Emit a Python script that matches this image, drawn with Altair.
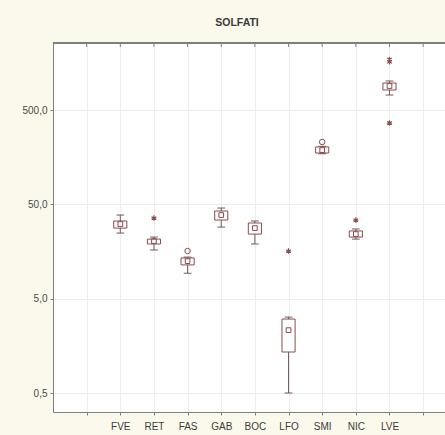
import altair as alt
import pandas as pd

categories = ["FVE", "RET", "FAS", "GAB", "BOC", "LFO", "SMI", "NIC", "LVE"]
whisker_low = [24.8, 16.4, 9.3, 28.7, 19.0, 0.50, 172, 21.4, 721]
q1 = [28.0, 19.0, 11.4, 34.1, 24.2, 1.36, 175, 22.5, 815]
median = [30.9, 20.4, 12.5, 38.5, 28.0, 2.32, 188, 24.2, 898]
q3 = [33.3, 21.4, 13.5, 42.5, 31.7, 3.04, 203, 26.1, 966]
whisker_high = [38.5, 22.5, 13.8, 45.7, 33.3, 3.19, 206, 27.4, 1015]
outlier_cat = ["FAS", "SMI"]
outlier_val = [16.0, 229]
extreme_cat = ["RET", "LFO", "NIC", "LVE", "LVE", "LVE"]
extreme_val = [35.8, 16.0, 34.1, 1720, 1620, 364]
y_ticks = [0.5, 5, 50, 500]

# slot layout: one empty slot on each side of the categories
slot_labels = [""] + categories + [""]
slots = list(range(1, len(slot_labels) + 1))

def idx(c):
    return categories.index(c) + 2

box_df = pd.DataFrame({
    "cat": categories,
    "idx": [idx(c) for c in categories],
    "wlo": whisker_low, "q1": q1, "med": median, "q3": q3, "whi": whisker_high,
})
out_df = pd.DataFrame({"idx": [idx(c) for c in outlier_cat], "v": outlier_val})
ext_df = pd.DataFrame({"idx": [idx(c) for c in extreme_cat], "v": extreme_val})
slot_df = pd.DataFrame({"idx": slots})

W, H = 392, 369
BOX_HALF = 0.195
CAP_HALF = 0.115
BOX_COL = "#8a4c4c"
WHISK_COL = "#6f5b5b"
GRID = "#ededed"

label_js = "[" + ",".join("'" + s + "'" for s in [""] + slot_labels) + "]"

x_scale = alt.Scale(domain=[0, 11.65], nice=False, zero=False)
y_scale = alt.Scale(type="log", domain=[0.3145, 2566], nice=False)

x_axis = alt.Axis(values=slots, labelExpr=label_js + "[datum.value]", title=None,
                  grid=True, gridColor=GRID, tickSize=3, labelPadding=6,
                  labelFontSize=10, labelColor="#3c3c3c", domainColor="#7f7f7f",
                  tickColor="#7f7f7f", labelFont="Liberation Sans")
y_axis = alt.Axis(values=y_ticks, labelExpr="replace(format(datum.value, '.1f'), '.', ',')",
                  title=None, grid=True, gridColor=GRID, tickSize=3, labelPadding=3,
                  labelFontSize=10, labelColor="#4a4a4a", domainColor="#7f7f7f",
                  tickColor="#7f7f7f", labelFont="Liberation Sans")

def X(f):
    return alt.X(f, scale=x_scale, axis=x_axis)

def Y(f):
    return alt.Y(f, scale=y_scale, axis=y_axis)

base = alt.Chart(box_df)

stems = base.mark_rule(color=WHISK_COL, strokeWidth=1).encode(
    x=X("idx:Q"), y=Y("wlo:Q"), y2="whi:Q")

caps_hi = base.transform_calculate(l="datum.idx - %f" % CAP_HALF, r="datum.idx + %f" % CAP_HALF
    ).mark_rule(color=WHISK_COL, strokeWidth=1).encode(x=X("l:Q"), x2="r:Q", y=Y("whi:Q"))
caps_lo = base.transform_calculate(l="datum.idx - %f" % CAP_HALF, r="datum.idx + %f" % CAP_HALF
    ).mark_rule(color=WHISK_COL, strokeWidth=1).encode(x=X("l:Q"), x2="r:Q", y=Y("wlo:Q"))

boxes = base.transform_calculate(l="datum.idx - %f" % BOX_HALF, r="datum.idx + %f" % BOX_HALF
    ).mark_rect(fill="white", stroke=BOX_COL, strokeWidth=1).encode(
    x=X("l:Q"), x2="r:Q", y=Y("q1:Q"), y2="q3:Q")

meds = base.mark_point(shape="square", size=22, filled=False, color=BOX_COL, strokeWidth=1,
                       opacity=1).encode(x=X("idx:Q"), y=Y("med:Q"))

outs = alt.Chart(out_df).mark_point(shape="circle", size=30, filled=False, color=BOX_COL,
                                    strokeWidth=1, opacity=1).encode(x=X("idx:Q"), y=Y("v:Q"))

ast = "M0,-1L0,1M-0.87,-0.5L0.87,0.5M-0.87,0.5L0.87,-0.5"
exts = alt.Chart(ext_df).mark_point(shape=ast, size=30, filled=False, color=BOX_COL,
                                    strokeWidth=1.2, opacity=1).encode(x=X("idx:Q"), y=Y("v:Q"))

top_ticks = alt.Chart(slot_df).mark_rule(color="#7f7f7f").encode(
    x=X("idx:Q"), y=alt.value(0), y2=alt.value(4))
top_border = alt.Chart(slot_df).mark_rule(color="#7f7f7f").encode(
    x=alt.value(0), x2=alt.value(W), y=alt.value(0))

chart = alt.layer(stems, caps_hi, caps_lo, boxes, meds, outs, exts, top_ticks, top_border).properties(
    width=W, height=H,
    title=alt.TitleParams("SOLFATI", fontSize=10.5, fontWeight=600, color="#3a3a3a",
                          font="Liberation Sans", offset=14, dx=-12),
    autosize=alt.AutoSizeParams(type="none"),
    padding={"left": 53, "top": 43, "right": 0, "bottom": 23},
).configure(background="#fbf9ec").configure_view(fill="white", stroke=None)

chart.save("out.html", embed_options={"renderer": "svg", "actions": False})
